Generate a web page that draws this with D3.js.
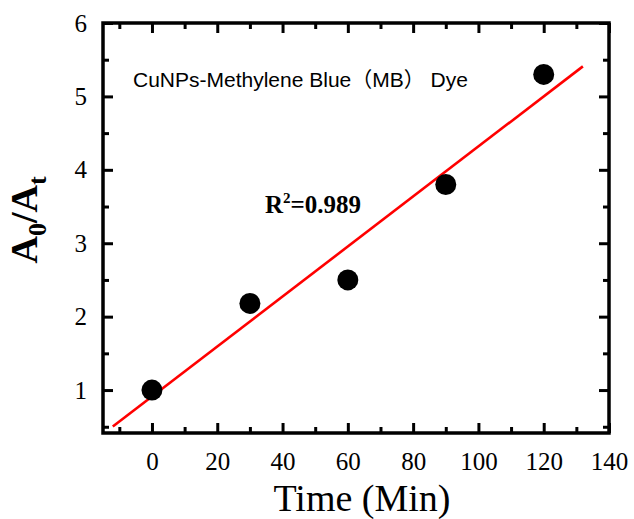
<!DOCTYPE html>
<html>
<head>
<meta charset="utf-8">
<title>CuNPs MB kinetics</title>
<script src="https://cdn.jsdelivr.net/npm/d3@7"></script>
<style>
  body { margin: 0; background: #fff; }
  svg { display: block; }
  .tick text { font-family: "Liberation Serif", "Times New Roman", serif; font-size: 25px; fill: #000; }
  .tick line { stroke: #000; stroke-width: 3px; }
</style>
</head>
<body>
<script>
// data
var times = [0, 30, 60, 90, 120];
var ratios = [1.0, 2.18, 2.5, 3.8, 5.3];
var xMajor = [0, 20, 40, 60, 80, 100, 120, 140];
var xMinor = [-10, 10, 30, 50, 70, 90, 110, 130];
var yMajor = [1, 2, 3, 4, 5, 6];
var yMinor = [0.5, 1.5, 2.5, 3.5, 4.5, 5.5];
var fitRange = [-12, 132];
var noteText = "CuNPs-Methylene Blue（MB） Dye";
var r2Text = "0.989";

var W = 634, H = 519;
var pL = 103, pT = 23, pR = 609, pB = 433;

var svg = d3.select("body").append("svg")
    .attr("width", W)
    .attr("height", H);

var x = d3.scaleLinear().domain([-15, 140]).range([pL, pR]);
var y = d3.scaleLinear().domain([0.415, 6]).range([pB, pT]);

function drawAxis(axis, tx, ty) {
    var g = svg.append("g")
        .attr("transform", "translate(" + tx + "," + ty + ")")
        .call(axis);
    g.select(".domain").remove();
    return g;
}

// bottom
drawAxis(d3.axisBottom(x).tickValues(xMajor).tickSize(-10).tickPadding(19).tickFormat(d3.format("d")), 0, pB);
drawAxis(d3.axisBottom(x).tickValues(xMinor).tickSize(-6).tickFormat(""), 0, pB);
// top
drawAxis(d3.axisTop(x).tickValues(xMajor).tickSize(-10).tickFormat(""), 0, pT);
drawAxis(d3.axisTop(x).tickValues(xMinor).tickSize(-6).tickFormat(""), 0, pT);
// left
drawAxis(d3.axisLeft(y).tickValues(yMajor).tickSize(-10).tickPadding(16).tickFormat(d3.format("d")), pL, 0);
drawAxis(d3.axisLeft(y).tickValues(yMinor).tickSize(-6).tickFormat(""), pL, 0);
// right
drawAxis(d3.axisRight(y).tickValues(yMajor).tickSize(-10).tickFormat(""), pR, 0);
drawAxis(d3.axisRight(y).tickValues(yMinor).tickSize(-6).tickFormat(""), pR, 0);

// frame
svg.append("rect")
    .attr("x", pL).attr("y", pT)
    .attr("width", pR - pL).attr("height", pB - pT)
    .attr("fill", "none").attr("stroke", "#000").attr("stroke-width", 3.5);

// linear fit
var mx = d3.mean(times), my = d3.mean(ratios);
var sxy = d3.sum(times, function(t, i) { return (t - mx) * (ratios[i] - my); });
var sxx = d3.sum(times, function(t) { return (t - mx) * (t - mx); });
var slope = sxy / sxx, icpt = my - slope * mx;

svg.append("path")
    .datum(fitRange)
    .attr("d", d3.line().x(function(d) { return x(d); }).y(function(d) { return y(icpt + slope * d); }))
    .attr("fill", "none")
    .attr("stroke", "#ff0000")
    .attr("stroke-width", 2.6);

// points
svg.selectAll("circle.pt")
    .data(times)
    .enter().append("circle")
    .attr("class", "pt")
    .attr("cx", function(d) { return x(d); })
    .attr("cy", function(d, i) { return y(ratios[i]); })
    .attr("r", 10.5)
    .attr("fill", "#000");

// note
svg.append("text")
    .attr("x", 133).attr("y", 87)
    .style("font-family", "Liberation Sans, Arial, 'Noto Sans CJK SC', sans-serif")
    .style("font-size", "21px")
    .text(noteText);

// R^2
var r2 = svg.append("text")
    .attr("x", 265).attr("y", 213)
    .style("font-family", "Liberation Serif, 'Times New Roman', serif")
    .style("font-weight", "bold")
    .style("font-size", "25px");
r2.append("tspan").text("R");
r2.append("tspan").attr("dy", -10).style("font-size", "15px").text("2");
r2.append("tspan").attr("dy", 10).text("=" + r2Text);

// x title
svg.append("text")
    .attr("x", (pL + pR) / 2 + 6).attr("y", 511)
    .attr("text-anchor", "middle")
    .style("font-family", "Liberation Serif, 'Times New Roman', serif")
    .style("font-size", "38px")
    .text("Time (Min)");

// y title
var yt = svg.append("text")
    .attr("transform", "translate(37,220) rotate(-90)")
    .attr("text-anchor", "middle")
    .style("font-family", "Liberation Serif, 'Times New Roman', serif")
    .style("font-weight", "bold")
    .style("font-size", "38px");
yt.append("tspan").text("A");
yt.append("tspan").attr("dy", 9).style("font-size", "26px").text("0");
yt.append("tspan").attr("dy", -9).text("/A");
yt.append("tspan").attr("dy", 9).style("font-size", "26px").text("t");
</script>
</body>
</html>
